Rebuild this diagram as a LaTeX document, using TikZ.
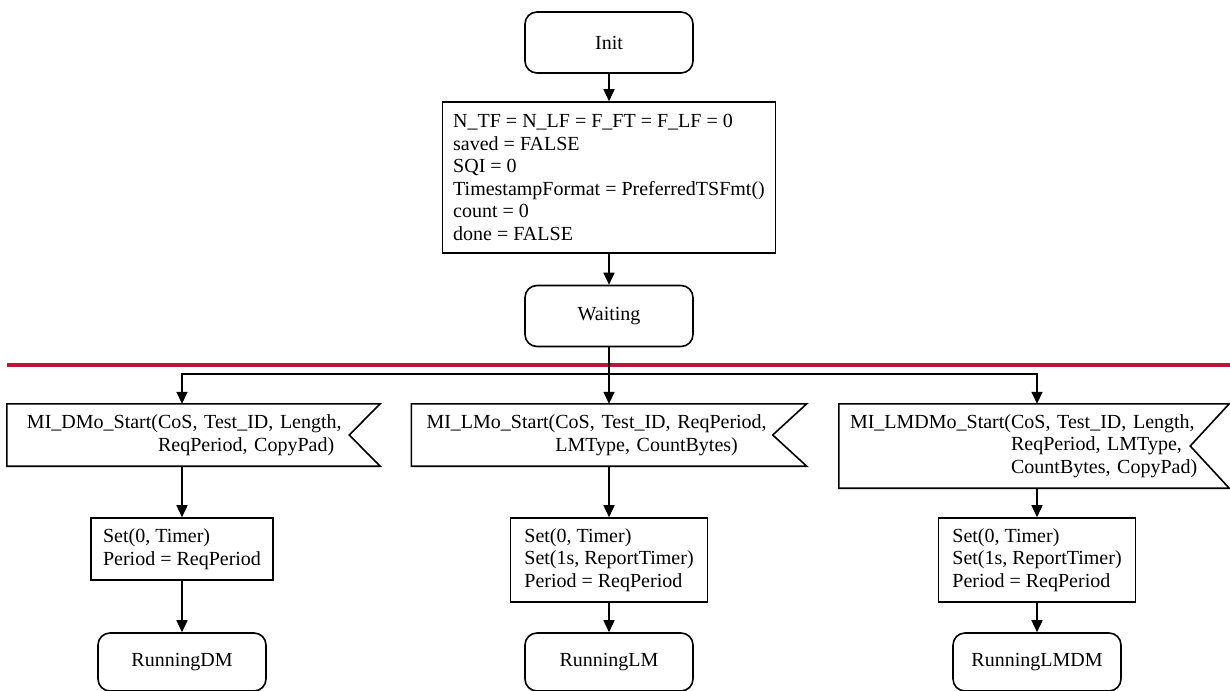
\documentclass[tikz,border=0pt]{standalone}
\usepackage{fontspec}
\setmainfont{Liberation Serif}
\usetikzlibrary{arrows.meta,calc}
\definecolor{sepred}{RGB}{190,20,55}

\begin{document}
\begin{tikzpicture}[x=1pt,y=-1pt,>={Triangle[length=12pt,width=11pt]},
  every node/.style={font=\fontsize{20}{22.6}\selectfont},
  state/.style={draw,line width=1.6pt,rounded corners=12pt,
    minimum width=168pt,minimum height=61pt},
  task/.style={draw,line width=1.6pt,align=left,inner sep=0pt},
  sigin/.style={align=left,inner ysep=0pt},
  flow/.style={->,line width=1.6pt}]
  \useasboundingbox (0,0) rectangle (1230,690);

  % Start-up part.
  \node[state] (init) at (609,42.5) {Init};
  \node[task,minimum width=333pt,minimum height=151pt] (vars) at (609,177.5)
    {N\_TF = N\_LF = F\_FT = F\_LF = 0\\saved = FALSE\\SQI = 0\\
     TimestampFormat = PreferredTSFmt()\\count = 0\\done = FALSE};
  \node[state] (wait) at (609,316) {Waiting};

  % Separator between the two parts of the chart.
  \draw[sepred,line width=4pt] (7,365) -- (1230,365);

  % Received signals.
  \node[sigin,text width=333pt,inner xsep=20pt,minimum height=62pt] (sigDM) at (193.5,435)
    {MI\_DMo\_Start(CoS, Test\_ID, Length,\\
     \hphantom{MI\_DMo\_Start(}ReqPeriod, CopyPad)};
  \node[sigin,text width=365pt,inner xsep=15pt,minimum height=62pt] (sigLM) at (609,435)
    {MI\_LMo\_Start(CoS, Test\_ID, ReqPeriod,\\
     \hphantom{MI\_LMo\_Start(}LMType, CountBytes)};
  \node[sigin,text width=368pt,inner xsep=11pt,minimum height=84pt] (sigLMDM) at (1034,446)
    {MI\_LMDMo\_Start(CoS, Test\_ID, Length,\\
     \hphantom{MI\_LMDMo\_Start(}ReqPeriod, LMType,\\
     \hphantom{MI\_LMDMo\_Start(}CountBytes, CopyPad)};
  \foreach \s/\d in {sigDM/31,sigLM/34,sigLMDM/39}
    \draw[line width=1.6pt] (\s.north west) -- (\s.north east)
      -- ($(\s.east)+(-\d,0)$) -- (\s.south east) -- (\s.south west) -- cycle;

  % Tasks and next states.
  \node[task,minimum width=182pt,minimum height=62pt] (setDM) at (182,549)
    {Set(0, Timer)\\Period = ReqPeriod};
  \node[task,minimum width=197pt,minimum height=84pt] (setLM) at (609,560)
    {Set(0, Timer)\\Set(1s, ReportTimer)\\Period = ReqPeriod};
  \node[task,minimum width=197pt,minimum height=84pt] (setLMDM) at (1037,560)
    {Set(0, Timer)\\Set(1s, ReportTimer)\\Period = ReqPeriod};
  \node[state,minimum height=58pt] (runDM) at (182,662) {RunningDM};
  \node[state,minimum height=58pt] (runLM) at (609,662) {RunningLM};
  \node[state,minimum height=58pt] (runLMDM) at (1037,662) {RunningLMDM};

  % Connectors.
  \draw[flow] (init) -- (vars);
  \draw[flow] (vars) -- (wait);
  \coordinate (split) at (609,374);
  \draw[line width=1.6pt] (wait) -- (split);
  \draw[flow] (split) -| (sigDM.north -| setDM.north);
  \draw[flow] (split) -- (sigLM.north);
  \draw[flow] (split) -| (sigLMDM.north -| setLMDM.north);
  \foreach \c in {DM,LM,LMDM} {
    \draw[flow] (sig\c.south -| set\c.north) -- (set\c);
    \draw[flow] (set\c) -- (run\c);
  }
\end{tikzpicture}
\end{document}
